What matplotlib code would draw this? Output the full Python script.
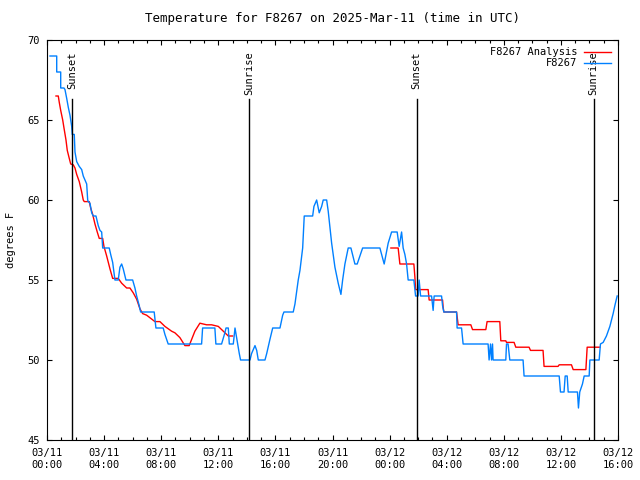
import numpy as np
import matplotlib
matplotlib.use("Agg")
import matplotlib.pyplot as plt
import matplotlib.dates as mdates
import pandas as pd

# hours since 2025-03-11 00:00 UTC
obs_hours = [0.21, 0.68, 0.68, 0.96, 0.96, 1.19, 1.26, 1.38, 1.49, 1.61, 1.73, 1.77, 1.91, 1.96,
             2.08, 2.26, 2.43, 2.54, 2.78, 2.85, 2.89, 3.01, 3.13, 3.24, 3.43, 3.59, 3.71, 3.83,
             3.90, 4.36, 4.46, 4.60, 4.76, 4.99, 5.11, 5.23, 5.34, 5.53, 6.00, 6.16, 6.28, 6.46,
             6.56, 7.51, 7.63, 8.14, 8.26, 8.49, 10.83, 10.90, 11.76, 11.83, 12.23, 12.46, 12.54,
             12.70, 12.77, 13.05, 13.17, 13.28, 13.47, 13.56, 14.22, 14.33, 14.57, 14.69, 14.80,
             15.27, 15.39, 15.62, 15.81, 16.32, 16.51, 16.60, 17.25, 17.37, 17.60, 17.72, 17.91,
             18.02, 18.61, 18.70, 18.89, 19.07, 19.24, 19.35, 19.59, 19.70, 19.94, 20.17, 20.40,
             20.59, 20.71, 20.87, 21.10, 21.29, 21.57, 21.73, 22.11, 23.32, 23.62, 23.90, 24.14,
             24.53, 24.67, 24.84, 24.95, 25.07, 25.19, 25.30, 25.70, 25.82, 26.00, 26.07, 26.17,
             26.94, 27.05, 27.12, 27.64, 27.71, 27.80, 28.69, 28.73, 29.04, 29.15, 30.90, 30.97,
             31.07, 31.14, 31.21, 31.25, 32.14, 32.19, 32.30, 32.42, 33.35, 33.42, 35.88, 35.97,
             36.22, 36.30, 36.44, 36.51, 37.16, 37.23, 37.32, 37.51, 37.63, 37.98, 38.03, 38.68,
             38.77, 38.96, 39.19, 39.43, 39.66, 39.78, 39.94]
obs_temps = [69, 69, 68, 68, 67, 67, 66.9, 66.35, 65.8, 65.3, 64.6, 64.1, 64.1, 63.0,
             62.4, 62.1, 61.9, 61.5, 61.0, 60.0, 59.9, 59.8, 59.2, 59.0, 59.0, 58.4, 58.1, 58.0,
             57.0, 57.0, 56.6, 56.1, 55.0, 55.0, 55.8, 56.0, 55.7, 55.0, 55.0, 54.5, 54.0, 53.4,
             53.0, 53.0, 52.0, 52.0, 51.6, 51.0, 51.0, 52.0, 52.0, 51.0, 51.0, 51.7, 52.0,
             52.0, 51.0, 51.0, 52.0, 51.4, 50.4, 50.0, 50.0, 50.4, 50.9, 50.6, 50.0,
             50.0, 50.4, 51.3, 52.0, 52.0, 52.8, 53.0, 53.0, 53.5, 55.0, 55.6, 57.0,
             59.0, 59.0, 59.6, 60.0, 59.2, 59.6, 60.0, 60.0, 59.3, 57.3, 55.8, 54.8,
             54.1, 55.0, 56.0, 57.0, 57.0, 56.0, 56.0, 57.0, 57.0, 56.0, 57.3, 58.0,
             58.0, 57.1, 58.0, 57.0, 56.6, 56.0, 55.0, 55.0, 54.0, 54.0, 55.0, 54.0,
             54.0, 53.1, 54.0, 54.0, 53.4, 53.0, 53.0, 52.0, 52.0, 51.0, 51.0, 50.0,
             51.0, 50.0, 51.0, 50.0, 50.0, 51.0, 51.0, 50.0, 50.0, 49.0, 49.0, 48.0,
             48.0, 49.0, 49.0, 48.0, 48.0, 47.0, 48.0, 48.5, 49.0, 49.0, 50.0, 50.0,
             51.0, 51.1, 51.5, 52.1, 52.9, 53.4, 54.0]

ana_hours = [0.63, 0.79, 0.86, 0.96, 1.10, 1.19, 1.33, 1.42, 1.56, 1.66, 1.84, 1.96, 2.08, 2.26,
             2.43, 2.54, 2.61, 2.96, 3.06, 3.20, 3.36, 3.52, 3.66, 3.90, 3.99, 4.18, 4.41, 4.60,
             4.99, 5.23, 5.58, 5.81, 6.04, 6.28, 6.51, 6.70, 6.98, 7.56, 7.91, 8.26, 8.73, 8.96,
             9.31, 9.66, 9.96, 10.36, 10.71, 11.18, 11.53, 12.00, 12.35, 12.70, 13.00, 18.0,
             24.09, 24.60, 24.72, 25.70, 25.77, 25.82, 26.70, 26.77, 27.71, 27.75, 27.80, 28.69,
             28.76, 28.80, 29.69, 29.81, 30.74, 30.83, 31.72, 31.79, 32.14, 32.19, 32.72, 32.84,
             33.77, 33.87, 34.75, 34.82, 35.80, 35.88, 36.74, 36.86, 37.75, 37.84, 38.73]
ana_temps = [66.5, 66.5, 66.1, 65.6, 65.0, 64.5, 63.75, 63.1, 62.6, 62.25, 62.2, 62.0, 61.6, 61.15,
             60.5, 60.0, 59.9, 59.9, 59.5, 59.1, 58.5, 58.0, 57.6, 57.6, 57.1, 56.5, 55.7, 55.1,
             55.1, 54.8, 54.5, 54.5, 54.2, 53.8, 53.2, 52.9, 52.8, 52.4, 52.4, 52.1, 51.8, 51.7,
             51.4, 50.9, 50.9, 51.8, 52.3, 52.2, 52.2, 52.1, 51.8, 51.5, 51.5, np.nan,
             57.0, 57.0, 56.0, 56.0, 55.2, 54.4, 54.4, 53.75, 53.75, 53.3, 53.0, 53.0,
             52.5, 52.2, 52.2, 51.9, 51.9, 52.4, 52.4, 51.2, 51.2, 51.1, 51.1, 50.8,
             50.8, 50.6, 50.6, 49.6, 49.6, 49.7, 49.7, 49.4, 49.4, 50.8, 50.8]

sun_hours = [1.75, 14.15, 25.9, 38.3]
sun_labels = ["Sunset", "Sunrise", "Sunset", "Sunrise"]

base = pd.Timestamp("2025-03-11 00:00")
def to_time(h):
    return base + pd.to_timedelta(np.array(h), unit="h")

font = "DejaVu Sans Mono"
plt.rcParams["font.family"] = font
plt.rcParams["font.size"] = 7.5

fig = plt.figure(figsize=(6.4, 4.8), dpi=100)
ax = fig.add_axes([47 / 640, 40 / 480, 571 / 640, 400 / 480])

ax.plot(to_time(ana_hours), ana_temps, color="#ff0000", lw=1.0, label="F8267 Analysis")
ax.plot(to_time(obs_hours), obs_temps, color="#0080ff", lw=1.0, label="F8267")

for h, lab in zip(sun_hours, sun_labels):
    t = to_time([h])[0]
    ax.plot([t, t], [45, 66.3], color="black", lw=1.0)
    ax.text(t, 69.3, lab, rotation=90, ha="center", va="top")

ax.set_xlim(base, base + pd.Timedelta(hours=40))
ax.set_ylim(45, 70)
ax.set_yticks([45, 50, 55, 60, 65, 70])
ax.xaxis.set_major_locator(mdates.HourLocator(byhour=[0, 4, 8, 12, 16, 20]))
ax.xaxis.set_minor_locator(mdates.HourLocator())
ax.xaxis.set_major_formatter(mdates.DateFormatter("%m/%d\n%H:%M"))
ax.tick_params(which="both", direction="in", top=True, right=True, width=0.8)
ax.tick_params(which="major", length=3.8, pad=6)
ax.tick_params(which="minor", length=2.2)
ax.tick_params(axis="y", pad=5)
for s in ax.spines.values():
    s.set_linewidth(0.8)

ax.set_ylabel("degrees F", labelpad=8)
ax.set_title("Temperature for F8267 on 2025-Mar-11 (time in UTC)", pad=13)

ax.legend(loc="upper right", frameon=False, markerfirst=False, handlelength=2.6,
          handletextpad=0.6, labelspacing=0.1, borderaxespad=0.3, fontsize=7.5)

fig.savefig("out.png", dpi=100)
